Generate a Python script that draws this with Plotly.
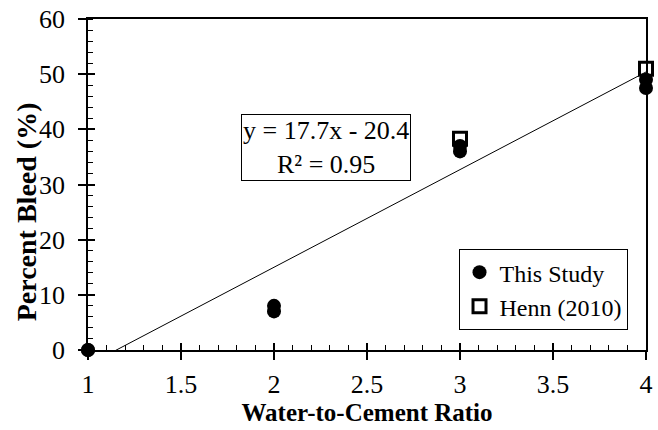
import plotly.graph_objects as go

# Bleed measurements (percent) against water-to-cement ratio
study_wc = [1, 1, 2, 2, 3, 3, 4, 4]
study_bleed = [0, 0, 7.0, 8.0, 36.0, 37.0, 47.5, 49.0]

henn_wc = [3, 4]
henn_bleed = [38.3, 51.0]

# Linear trendline reported on the chart
slope = 17.7
intercept = -20.4
r_squared = 0.95
trend_x = [1, 4]
trend_y = [slope * x + intercept for x in trend_x]

x_ticks = [1, 1.5, 2, 2.5, 3, 3.5, 4]
y_ticks = [0, 10, 20, 30, 40, 50, 60]

FONT = "Times New Roman, Liberation Serif, serif"

fig = go.Figure()

fig.add_trace(go.Scatter(
    x=trend_x, y=trend_y, mode="lines",
    line=dict(color="black", width=1), showlegend=False, hoverinfo="skip",
))
fig.add_trace(go.Scatter(
    x=henn_wc, y=henn_bleed, mode="markers", name="Henn (2010)",
    marker=dict(symbol="square-open", size=13, color="black", line=dict(width=3)),
    cliponaxis=False, legendrank=2,
))
fig.add_trace(go.Scatter(
    x=study_wc, y=study_bleed, mode="markers", name="This Study",
    marker=dict(symbol="circle", size=14, color="black"),
    cliponaxis=False, legendrank=1,
))

# Invisible helper trace to carry the inner half of the major ticks
fig.add_trace(go.Scatter(x=[1], y=[0], xaxis="x2", yaxis="y2",
                         mode="markers", marker=dict(opacity=0),
                         showlegend=False, hoverinfo="skip"))

tick_font = dict(family=FONT, size=26, color="black")

fig.update_layout(
    width=658, height=430,
    margin=dict(l=88, r=5, t=15, b=80),
    paper_bgcolor="white", plot_bgcolor="white",
    font=dict(family=FONT, color="black"),
    xaxis=dict(
        range=[1, 4], tickvals=x_ticks, ticktext=[str(v) for v in x_ticks],
        showgrid=False, zeroline=False,
        showline=True, linecolor="black", linewidth=1.5, mirror=True,
        ticks="outside", ticklen=8, tickwidth=1.5, tickcolor="black",
        minor=dict(dtick=0.1, ticks="inside", ticklen=5, tickwidth=1, tickcolor="black", showgrid=False),
        tickfont=tick_font, ticklabelstandoff=2,
        title=dict(text="<b>Water-to-Cement Ratio</b>",
                   font=dict(family=FONT, size=25, color="black"), standoff=5),
    ),
    yaxis=dict(
        range=[0, 60], tickvals=y_ticks,
        showgrid=False, zeroline=False,
        showline=True, linecolor="black", linewidth=1.5, mirror=True,
        ticks="outside", ticklen=8, tickwidth=1.5, tickcolor="black",
        minor=dict(dtick=2, ticks="inside", ticklen=5, tickwidth=1, tickcolor="black", showgrid=False),
        tickfont=tick_font, ticklabelstandoff=8,
    ),
    xaxis2=dict(
        overlaying="x", range=[1, 4], tickvals=x_ticks, showticklabels=False,
        ticks="inside", ticklen=7, tickwidth=1.5, tickcolor="black",
        showgrid=False, zeroline=False, showline=False, side="bottom",
    ),
    yaxis2=dict(
        overlaying="y", range=[0, 60], tickvals=y_ticks, showticklabels=False,
        ticks="inside", ticklen=7, tickwidth=1.5, tickcolor="black",
        showgrid=False, zeroline=False, showline=False, side="left",
    ),
    legend=dict(
        x=0.664, y=0.305, xanchor="left", yanchor="top",
        bordercolor="black", borderwidth=1, bgcolor="white",
        font=dict(family=FONT, size=24, color="black"),
        itemwidth=30, tracegroupgap=0,
    ),
    showlegend=True,
)

# Vertical axis title, placed as a rotated annotation
fig.add_annotation(
    x=-0.11, y=0.418, xref="paper", yref="paper",
    text="<b>Percent Bleed (%)</b>", textangle=-90,
    showarrow=False, xanchor="center", yanchor="middle",
    font=dict(family=FONT, size=28, color="black"),
)

fig.add_annotation(
    x=2.28, y=36.7, xref="x", yref="y",
    text=f"y = {slope}x - {abs(intercept)}<br>R² = {r_squared}",
    showarrow=False, align="center",
    font=dict(family=FONT, size=26, color="black"),
    bordercolor="black", borderwidth=1, borderpad=1, bgcolor="white",
)

fig.write_html("out.html")
